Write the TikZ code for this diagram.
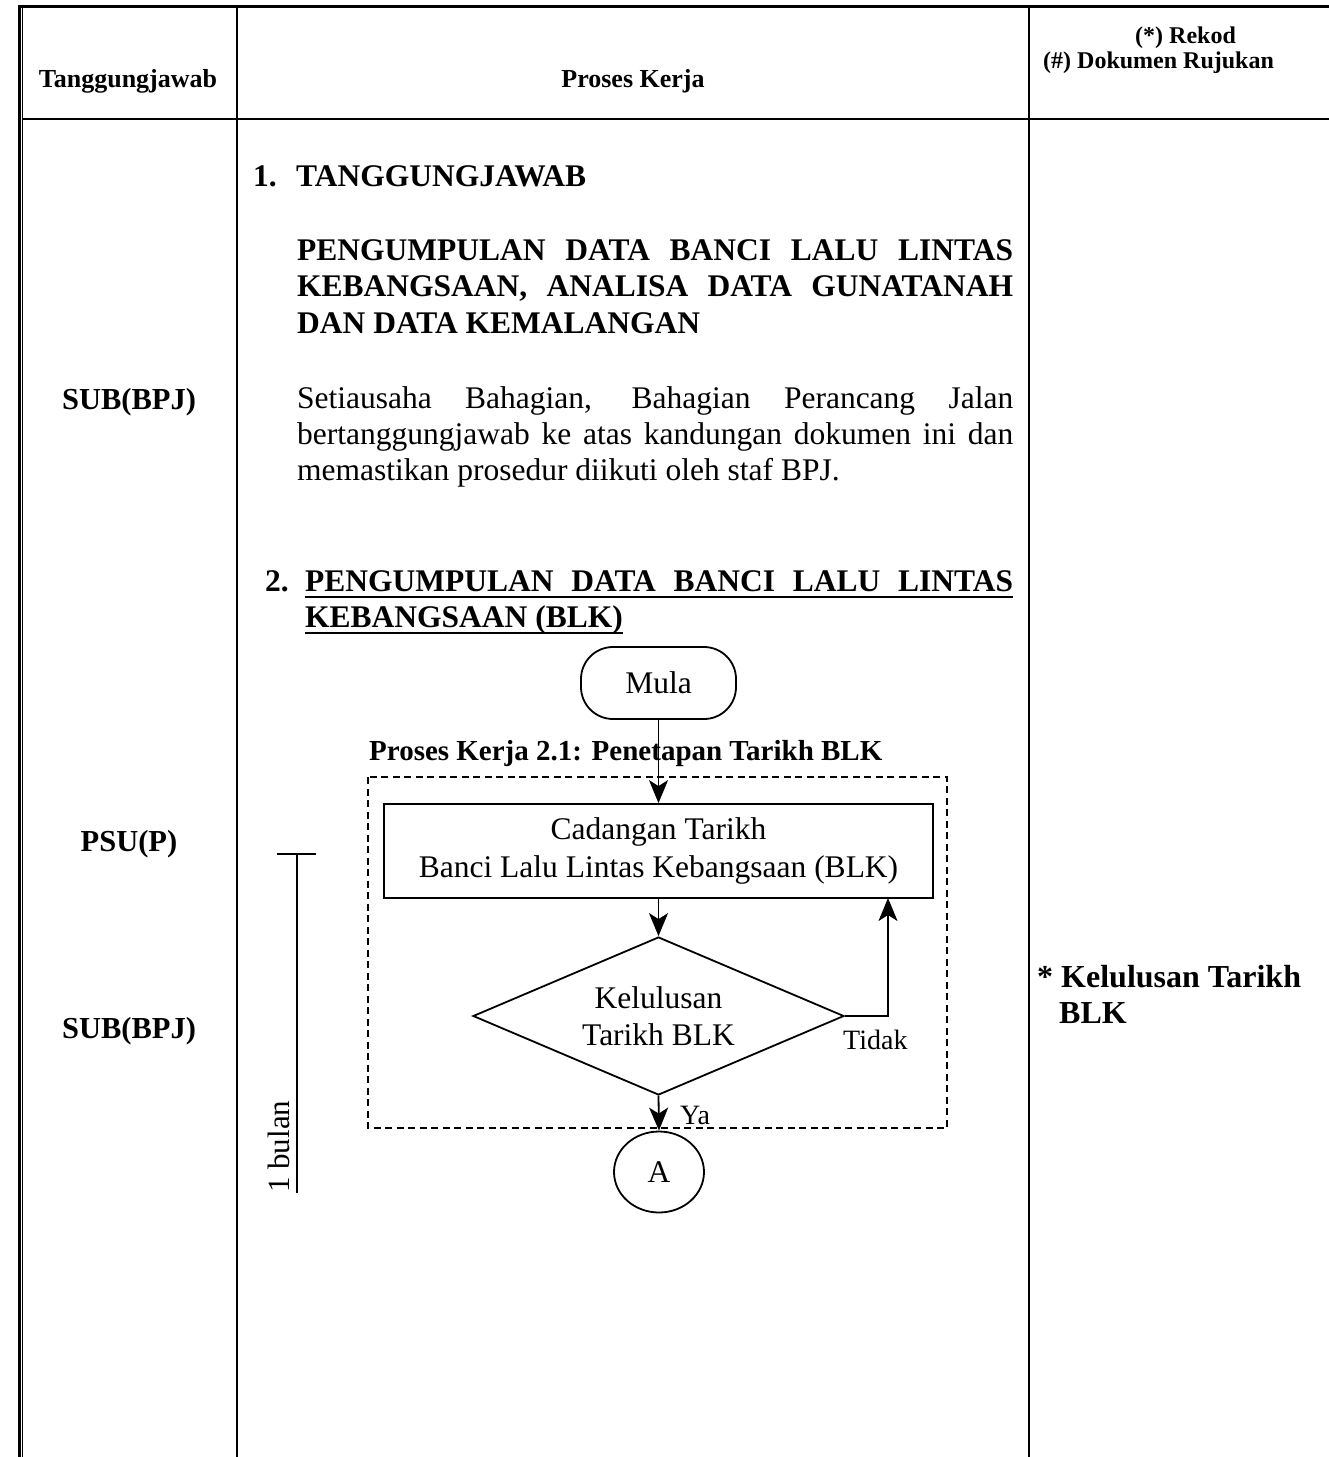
\documentclass[tikz,border=0pt]{standalone}
\usepackage{fontspec}
\setmainfont{Liberation Serif}
\usetikzlibrary{shapes.geometric,arrows.meta}
\newcommand{\setfs}[1]{\fontsize{#1pt}{#1pt}\selectfont}
\begin{document}
\begin{tikzpicture}[x=1pt,y=-1pt,
  rule/.style={line width=2pt},
  hdr/.style={font=\bfseries\setfs{26}, inner sep=0pt, anchor=base},
  hdrsmall/.style={font=\bfseries\setfs{24}, inner sep=0pt, anchor=base west},
  who/.style={font=\bfseries\setfs{30.5}, inner sep=0pt, anchor=base},
  headb/.style={font=\bfseries\setfs{31.5}, inner sep=0pt, anchor=base west},
  body/.style={font=\setfs{31.5}, inner sep=0pt, anchor=base west},
  uline/.style={line width=1.8pt},
  flow/.style={draw, line width=1.8pt, font=\setfs{31.5}, align=center, inner sep=0pt},
  terminal/.style={flow, rectangle, rounded corners=32pt, minimum width=155pt, minimum height=72pt},
  process/.style={flow, rectangle, minimum width=549pt, minimum height=94pt},
  decision/.style={flow, diamond, aspect=2.35, minimum width=371pt, minimum height=158pt},
  connector/.style={flow, ellipse, minimum width=90pt, minimum height=81pt},
  arr/.style={line width=1.8pt, -{Stealth[length=23pt,width=19pt,inset=6pt]}},
  group/.style={line width=1.8pt, dash pattern=on 7pt off 4.5pt},
  lbl/.style={font=\setfs{28}, inner sep=0pt, anchor=base west}
]
\useasboundingbox (0,0) rectangle (1329,1457);

% ---- table frame ----
\draw[line width=3pt] (18,6.5) -- (1329,6.5);
\draw[line width=2.4pt] (19.5,5) -- (19.5,1457);
\draw[line width=1.6pt] (22.5,8) -- (22.5,1457);
\draw[rule] (22,119) -- (1329,119);
\draw[rule] (237,8) -- (237,1457);
\draw[rule] (1028.5,8) -- (1028.5,1457);

% ---- header row ----
\node[hdr] (hwho) at (128,87) {Tanggungjawab};
\node[hdr] (hproc) at (633,87) {Proses Kerja};
\node[hdrsmall] (hrec) at (1135,43) {(*) Rekod};
\node[hdrsmall] (hdoc) at (1043,68) {(\#) Dokumen Rujukan};

% ---- responsibility column ----
\node[who] (w1) at (129,409) {SUB(BPJ)};
\node[who] (w2) at (129,851) {PSU(P)};
\node[who] (w3) at (129,1038) {SUB(BPJ)};

% ---- section 1 ----
\node[headb] (s1n) at (253,186) {1.};
\node[headb] (s1) at (296,186) {TANGGUNGJAWAB};
\node[headb] (t1) at (297,260) {\makebox[716pt][s]{PENGUMPULAN DATA BANCI LALU LINTAS}};
\node[headb] (t2) at (297,296.5) {\makebox[716pt][s]{KEBANGSAAN, ANALISA DATA GUNATANAH}};
\node[headb] (t3) at (297,333) {DAN DATA KEMALANGAN};
\node[body] (b1) at (297,408) {\makebox[716pt][s]{Setiausaha Bahagian, Bahagian Perancang Jalan}};
\node[body] (b2) at (297,444) {\makebox[716pt][s]{bertanggungjawab ke atas kandungan dokumen ini dan}};
\node[body] (b3) at (297,480) {memastikan prosedur diikuti oleh staf BPJ.};

% ---- section 2 heading (underlined) ----
\node[headb] (s2n) at (265,591) {2.};
\node[headb, text depth=0pt] (s2a) at (305,591) {\makebox[708pt][s]{PENGUMPULAN DATA BANCI LALU LINTAS}};
\node[headb, text depth=0pt] (s2b) at (305,627) {KEBANGSAAN (BLK)};
\draw[uline] ([yshift=-6pt]s2a.base west) -- ([yshift=-6pt]s2a.base east);
\draw[uline] ([yshift=-6pt]s2b.base west) -- ([yshift=-6pt]s2b.base east);

% ---- flowchart 2.1 ----
\node[font=\bfseries\setfs{29}, inner sep=0pt, anchor=base west] (g1) at (369,760) {Proses Kerja 2.1: Penetapan Tarikh BLK};
\draw[group] (368,777) rectangle (947,1128);

\node[terminal] (mula) at (658.5,683) {Mula};
\node[process] (cad) at (658.5,851) {Cadangan Tarikh\\[6pt]Banci Lalu Lintas Kebangsaan (BLK)};
\node[decision] (lulus) at (658.5,1016) {Kelulusan\\[6pt]Tarikh BLK};
\node[connector] (conA) at (659,1172) {A};
\coordinate (back) at (888,898);

\draw[arr] (mula) -- (cad);
\draw[arr] (cad) -- (lulus);
\draw[arr] (lulus.east) -| (back);
\draw[arr] (lulus.south) -- (conA.north);
\node[lbl] (tidak) at (843,1049) {Tidak};
\node[lbl] (ya) at (680,1124) {Ya};

% ---- duration bar ----
\coordinate (dtop) at (297,854);
\coordinate (dbot) at (297,1193);
\draw[line width=1.5pt] (dtop) -- (dbot);
\draw[line width=1.5pt] (277,854) -- (316,854);
\node[font=\setfs{31}, inner sep=0pt, anchor=base west, rotate=90] (dur) at (289,1193) {1 bulan};

% ---- record column ----
\node[font=\bfseries\setfs{32}, inner sep=0pt, anchor=base west] (r1) at (1037,987) {* Kelulusan Tarikh};
\node[font=\bfseries\setfs{32}, inner sep=0pt, anchor=base west] (r2) at (1059,1023) {BLK};
\end{tikzpicture}
\end{document}
